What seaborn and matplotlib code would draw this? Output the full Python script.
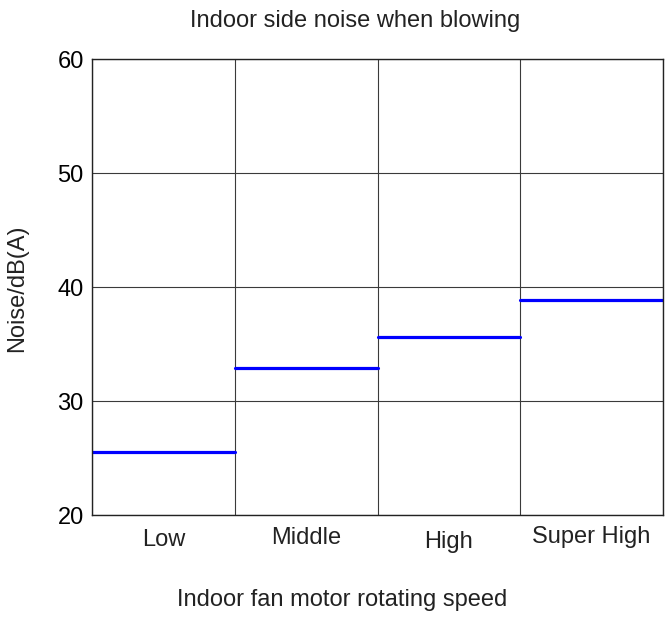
import matplotlib
matplotlib.use("Agg")
import matplotlib.pyplot as plt
import matplotlib.transforms as mtransforms
import numpy as np
import pandas as pd
import seaborn as sns

# Indoor unit noise level at each fan speed setting
speeds = ["Low", "Middle", "High", "Super High"]
noise_db = [25.5, 32.9, 35.6, 38.9]
y_ticks = [20, 30, 40, 50, 60]
label_drop_px = [25, 23, 27, 22]  # vertical placement of each speed label under the axis

sns.set_theme(style="white")
plt.rcParams["font.family"] = ["Liberation Sans", "DejaVu Sans"]

# each speed occupies one unit-wide band; the level is a flat segment across it
rows = []
for i, (s, v) in enumerate(zip(speeds, noise_db)):
    rows.append({"speed": s, "x": i, "noise": v})
    rows.append({"speed": s, "x": i + 1, "noise": v})
df = pd.DataFrame(rows)

fig = plt.figure(figsize=(6.65, 6.17), dpi=100)
ax = fig.add_axes([92 / 665, 102 / 617, 571 / 665, 456 / 617])

sns.lineplot(data=df, x="x", y="noise", units="speed", estimator=None,
             color="#0000ff", linewidth=2.3, ax=ax, legend=False)

ax.set_xlim(0, len(speeds))
ax.set_ylim(y_ticks[0], y_ticks[-1])
ax.set_yticks(y_ticks)
ax.set_xticks(np.arange(len(speeds) + 1))
ax.set_xticklabels([])
ax.grid(True, color="#3a3a3a", linewidth=0.8)
ax.set_axisbelow(True)

for sp in ax.spines.values():
    sp.set_color("#222222")
    sp.set_linewidth(1.0)

ax.tick_params(axis="y", length=0, pad=6, labelsize=17, colors="black")
ax.tick_params(axis="x", length=3, width=0.8, color="#3a3a3a", direction="out")

base = ax.get_xaxis_transform()
for i, (s, d) in enumerate(zip(speeds, label_drop_px)):
    tr = mtransforms.offset_copy(base, fig=fig, x=0, y=-d, units="dots")
    ax.text(i + 0.5, 0, s, transform=tr, ha="center", va="center",
            fontsize=17, color="#222222")

ax.set_xlabel("")
ax.set_ylabel("")
fig.text(355.5 / 665, 1 - 21 / 617, "Indoor side noise when blowing",
         ha="center", va="center", fontsize=17, color="#222222")
fig.text(342.5 / 665, 1 - 600 / 617, "Indoor fan motor rotating speed",
         ha="center", va="center", fontsize=17, color="#222222")
fig.text(17 / 665, 1 - 288 / 617, "Noise/dB(A)", rotation=90,
         ha="center", va="center", fontsize=17, color="#222222")

fig.savefig("out.png", dpi=100)
